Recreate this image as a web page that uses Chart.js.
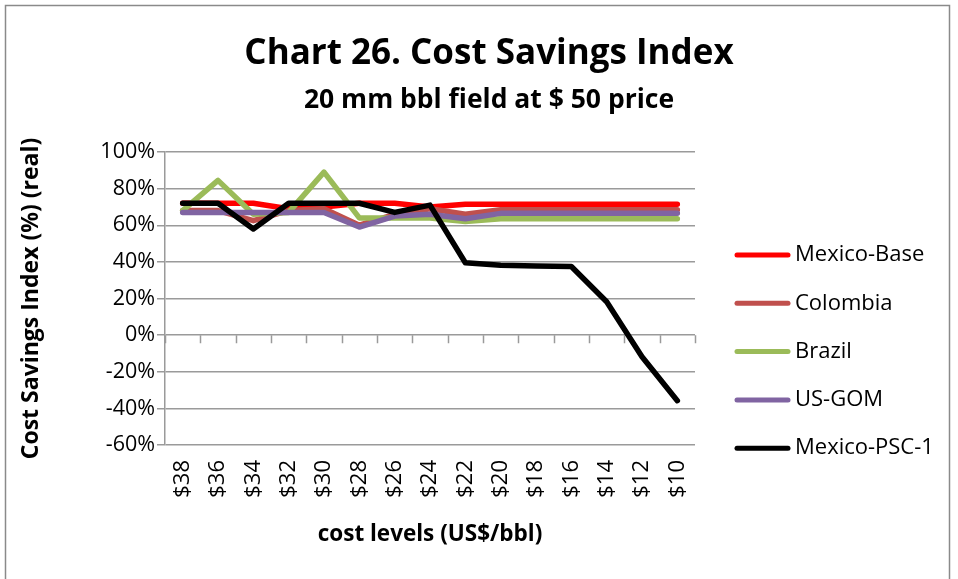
<!DOCTYPE html>
<html>
<head>
<meta charset="utf-8">
<script src="https://cdn.jsdelivr.net/npm/chart.js@4"></script>
<style>
  html, body { margin: 0; padding: 0; background: #fff; }
  canvas { display: block; }
</style>
</head>
<body>
<canvas id="chart" width="958" height="579"></canvas>
<script>
const categories = ['$38', '$36', '$34', '$32', '$30', '$28', '$26', '$24', '$22', '$20', '$18', '$16', '$14', '$12', '$10'];

const mexicoBase = [72, 72, 72, 69, 70, 72, 72, 70, 71.5, 71.5, 71.5, 71.5, 71.5, 71.5, 71.5];
const colombia   = [68, 68, 62.5, 68, 69, 60, 66, 69, 66, 68.5, 68.5, 68.5, 68.5, 68.5, 68.5];
const brazil     = [68, 84.5, 66, 67, 89, 64, 64, 64, 62, 63.5, 63.5, 63.5, 63.5, 63.5, 63.5];
const usGom      = [67, 67, 67, 67, 67, 59, 65, 66, 63.5, 66.5, 66.5, 66.5, 66.5, 66.5, 66.5];
const mexicoPsc1 = [72, 72, 58, 72, 72, 72, 67, 71, 39.5, 38.2, 37.8, 37.5, 18.2, -11.8, -35.8];

const yTicks = [-60, -40, -20, 0, 20, 40, 60, 80, 100];

const FONT = "'Open Sans', sans-serif";
const GRID = '#9a9a9a';

// frame, titles and legend drawn around the chart area
const decorations = {
  id: 'decorations',
  beforeDraw(chart) {
    const ctx = chart.ctx;
    ctx.save();
    ctx.fillStyle = '#fff';
    ctx.fillRect(0, 0, chart.width, chart.height);
    ctx.strokeStyle = '#8a8a8a';
    ctx.lineWidth = 1.5;
    ctx.strokeRect(5.5, 5.5, 944, 600);
    ctx.restore();
  },
  beforeDatasetsDraw(chart) {
    // x axis line at 0% with tick marks between categories
    const ctx = chart.ctx;
    const x = chart.scales.x;
    const y0 = chart.scales.y.getPixelForValue(0);
    ctx.save();
    ctx.strokeStyle = GRID;
    ctx.lineWidth = 1.5;
    ctx.beginPath();
    for (let i = 0; i <= categories.length; i++) {
      const px = Math.round(x.getPixelForValue(i - 0.5)) + 0.5;
      ctx.moveTo(px, y0);
      ctx.lineTo(px, y0 + 8);
    }
    ctx.stroke();
    ctx.restore();
  },
  afterDraw(chart) {
    const ctx = chart.ctx;
    ctx.save();
    ctx.fillStyle = '#000';
    ctx.textAlign = 'center';
    ctx.textBaseline = 'middle';
    ctx.font = `bold 35px ${FONT}`;
    ctx.fillText('Chart 26. Cost Savings Index', 489, 54);
    ctx.font = `bold 26.5px ${FONT}`;
    ctx.fillText('20 mm bbl field at $ 50 price', 489, 100);

    // legend
    ctx.textAlign = 'left';
    ctx.font = `22px ${FONT}`;
    chart.data.datasets.forEach((ds, i) => {
      const ly = 255 + i * 48.3;
      ctx.strokeStyle = ds.borderColor;
      ctx.lineWidth = 5;
      ctx.lineCap = 'round';
      ctx.beginPath();
      ctx.moveTo(737, ly);
      ctx.lineTo(788, ly);
      ctx.stroke();
      ctx.fillText(ds.label, 795, ly);
    });
    ctx.restore();
  }
};

const series = [
  { label: 'Mexico-Base', data: mexicoBase, color: '#FF0000' },
  { label: 'Colombia', data: colombia, color: '#C0504D' },
  { label: 'Brazil', data: brazil, color: '#9BBB59' },
  { label: 'US-GOM', data: usGom, color: '#8064A2' },
  { label: 'Mexico-PSC-1', data: mexicoPsc1, color: '#000000' }
];

new Chart(document.getElementById('chart'), {
  type: 'line',
  data: {
    labels: categories,
    datasets: series.map((s, i) => ({
      label: s.label,
      data: s.data,
      borderColor: s.color,
      backgroundColor: s.color,
      borderWidth: 5.5,
      pointRadius: 0,
      tension: 0,
      borderJoinStyle: 'round',
      borderCapStyle: 'round',
      // later series sit on top, like the source
      order: series.length - i
    }))
  },
  options: {
    responsive: false,
    animation: false,
    layout: { padding: { left: 0, top: 152, right: 263, bottom: 0 } },
    plugins: {
      legend: { display: false },
      title: { display: false },
      tooltip: { enabled: false }
    },
    scales: {
      x: {
        offset: true,
        grid: { display: false, drawTicks: false },
        border: { display: false },
        ticks: {
          autoSkip: false,
          minRotation: 90,
          maxRotation: 90,
          padding: 15,
          color: '#000',
          font: { family: FONT, size: 22 }
        },
        title: {
          display: true,
          text: 'cost levels (US$/bbl)',
          color: '#000',
          font: { family: FONT, size: 22.5, weight: 'bold' },
          padding: { top: 0, bottom: 31 }
        },
        afterFit(scale) { scale.height = 134; }
      },
      y: {
        min: -60,
        max: 100,
        afterBuildTicks(scale) { scale.ticks = yTicks.map(v => ({ value: v })); },
        grid: { color: GRID, lineWidth: 1.5, tickLength: 8 },
        border: { color: GRID, width: 1.5 },
        ticks: {
          padding: 2,
          color: '#000',
          font: { family: FONT, size: 21.5 },
          callback: v => v + '%'
        },
        title: {
          display: true,
          text: 'Cost Savings Index (%) (real)',
          color: '#000',
          font: { family: FONT, size: 23, weight: 'bold' },
          padding: { top: 18, bottom: 0 }
        },
        afterFit(scale) { scale.width = 165; }
      }
    }
  },
  plugins: [decorations]
});
</script>
</body>
</html>
